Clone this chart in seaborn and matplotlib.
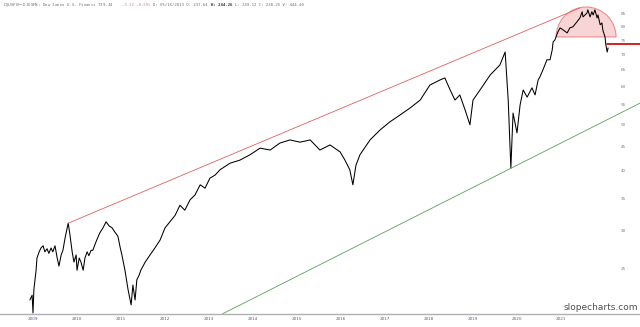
import numpy as np
import pandas as pd
import matplotlib
matplotlib.use("Agg")
import matplotlib.pyplot as plt
import seaborn as sns
from matplotlib.patches import Wedge
from matplotlib.transforms import ScaledTranslation
from matplotlib.ticker import FixedLocator, NullLocator, FixedFormatter

# ---- data (fractional year, price) ----
dates = [2008.93, 2008.98, 2009.00, 2009.02, 2009.07, 2009.09, 2009.14, 2009.18, 2009.23, 2009.27,
         2009.32, 2009.36, 2009.41, 2009.45, 2009.50, 2009.55, 2009.59, 2009.64, 2009.68, 2009.73,
         2009.80, 2009.84, 2009.89, 2009.93, 2009.98, 2010.00, 2010.05, 2010.09, 2010.14, 2010.18,
         2010.23, 2010.27, 2010.32, 2010.36, 2010.41, 2010.45, 2010.52, 2010.59, 2010.66, 2010.73,
         2010.80, 2010.86, 2010.93, 2010.98, 2011.02, 2011.09, 2011.16, 2011.23, 2011.27, 2011.32,
         2011.36, 2011.41, 2011.45, 2011.55, 2011.66, 2011.77, 2011.89, 2012.00, 2012.11, 2012.23,
         2012.34, 2012.45, 2012.57, 2012.68, 2012.80, 2012.91, 2013.02, 2013.14, 2013.25, 2013.48,
         2013.70, 2013.93, 2014.16, 2014.39, 2014.61, 2014.84, 2015.07, 2015.30, 2015.52, 2015.75,
         2015.98, 2016.09, 2016.20, 2016.27, 2016.34, 2016.43, 2016.66, 2016.89, 2017.11, 2017.34,
         2017.57, 2017.80, 2018.02, 2018.25, 2018.36, 2018.48, 2018.59, 2018.70, 2018.82, 2018.93,
         2019.00, 2019.16, 2019.39, 2019.61, 2019.73, 2019.80, 2019.86, 2019.91, 2020.00, 2020.07,
         2020.14, 2020.23, 2020.34, 2020.41, 2020.48, 2020.52, 2020.59, 2020.68, 2020.75, 2020.80,
         2020.82, 2020.86, 2020.93, 2020.98, 2021.05, 2021.14, 2021.20, 2021.27, 2021.36, 2021.43,
         2021.48, 2021.50, 2021.59, 2021.61, 2021.66, 2021.70, 2021.73, 2021.77, 2021.82, 2021.84,
         2021.89, 2021.93, 2021.95, 2022.00, 2022.02, 2022.05, 2022.07]
prices = [21.5, 22.0, 20.2, 22.6, 24.8, 26.3, 27.1, 27.6, 27.9, 27.1,
          27.5, 26.9, 27.6, 27.1, 27.9, 26.3, 25.3, 26.7, 27.3, 29.0,
          31.1, 29.4, 27.1, 25.8, 26.7, 24.8, 26.3, 25.8, 24.8, 26.3,
          27.1, 26.6, 27.3, 27.3, 28.1, 28.7, 29.7, 30.4, 31.3, 30.7,
          30.4, 29.8, 29.2, 27.7, 26.7, 24.8, 22.6, 21.0, 23.1, 21.5,
          23.7, 24.2, 24.8, 25.8, 26.7, 27.6, 28.7, 30.4, 31.3, 32.3,
          33.9, 33.1, 34.8, 35.6, 37.4, 36.8, 38.6, 39.2, 40.2, 41.5,
          42.1, 43.2, 44.6, 44.2, 45.7, 46.4, 45.9, 46.4, 44.2, 45.3,
          43.8, 42.1, 40.2, 37.4, 41.1, 43.2, 46.4, 48.7, 50.6, 52.3,
          54.1, 56.2, 60.4, 61.9, 62.5, 59.0, 56.2, 57.6, 53.6, 49.9,
          56.2, 59.0, 63.4, 66.5, 70.8, 56.2, 40.5, 52.8, 48.0, 54.9,
          59.0, 57.0, 59.6, 57.6, 61.9, 62.8, 65.0, 68.2, 68.2, 71.5,
          74.3, 75.0, 78.0, 79.5, 78.7, 77.6, 79.5, 79.9, 81.8, 83.4,
          85.9, 83.8, 85.4, 86.7, 83.8, 85.9, 84.6, 86.7, 83.4, 84.6,
          80.7, 81.4, 78.7, 76.1, 73.2, 70.8, 72.2]

year_labels = ["2009", "2010", "2011", "2012", "2013", "2014", "2015",
               "2016", "2017", "2018", "2019", "2020", "2021"]
year_ticks = [2009, 2010, 2011, 2012, 2013, 2014, 2015, 2016, 2017, 2018, 2019, 2020, 2021]
price_ticks = [20, 25, 30, 35, 40, 45, 50, 55, 60, 65, 70, 75, 80, 85]

# trendlines (date, price)
upper_trend_dates = [2009.80, 2021.43]
upper_trend_prices = [31.1, 87.5]
lower_trend_dates = [2013.30, 2022.80]
lower_trend_prices = [20.1, 55.4]
support_dates = [2022.05, 2022.80]
support_prices = [73.6, 73.6]
dome_center = (2021.57, 76.1)

header_parts = [
    ("$DJUSFN - $DJUSFN: Dow Jones U.S. Financi 739.34 ", "#707070", "normal"),
    ("-3.22 -0.59% ", "#e08070", "normal"),
    ("D: 05/16/2013 O: 237.64 ", "#707070", "normal"),
    ("H: 244.26 ", "#303030", "bold"),
    ("L: 249.12 C: 238.25 V: 444.40", "#707070", "normal"),
]

df = pd.DataFrame({"date": dates, "price": prices})

sns.set_style("white")
fig = plt.figure(figsize=(6.4, 3.27), dpi=100)
ax = fig.add_axes([0, 13 / 327, 1, 1 - 13 / 327])

sns.lineplot(data=df, x="date", y="price", ax=ax, color="black", linewidth=0.75)

ax.plot(upper_trend_dates, upper_trend_prices, color="#e06060", linewidth=0.6)
ax.plot(lower_trend_dates, lower_trend_prices, color="#5aa05a", linewidth=0.6)
ax.plot(support_dates, support_prices, color="#d22020", linewidth=1.4)

dome = Wedge((0, 0), 0.30, 0, 180, facecolor="#f5b8b8", alpha=0.6,
             edgecolor="#e04040", linewidth=0.7,
             transform=fig.dpi_scale_trans + ScaledTranslation(dome_center[0], dome_center[1], ax.transData))
ax.add_patch(dome)

ax.set_yscale("log")
ax.set_xlim(2008.25, 2022.795)
ax.set_ylim(20.1, 90.9)

ax.xaxis.set_major_locator(FixedLocator(year_ticks))
ax.xaxis.set_major_formatter(FixedFormatter(year_labels))
ax.yaxis.tick_right()
ax.yaxis.set_major_locator(FixedLocator(price_ticks))
ax.yaxis.set_major_formatter(FixedFormatter([str(p) for p in price_ticks]))
ax.yaxis.set_minor_locator(NullLocator())
ax.tick_params(axis="x", length=0, pad=2.5, labelsize=3, labelcolor="#5a5a8c")
ax.tick_params(axis="y", length=0, pad=-14, labelsize=3, labelcolor="#808080")
ax.set_xlabel("")
ax.set_ylabel("")

for s in ["top", "left", "right"]:
    ax.spines[s].set_visible(False)
ax.spines["bottom"].set_color("#b0b0b0")
ax.spines["bottom"].set_linewidth(1.0)

# header drawn piece by piece (monospace, ~2.42 px per character)
char_px = 2.42
xpos = 3.0
for txt, col, wt in header_parts:
    fig.text(xpos / 640, 1 - 5 / 327, txt, fontsize=2.9, family="DejaVu Sans Mono",
             color=col, weight=wt, va="center", ha="left")
    xpos += len(txt) * char_px

fig.text(601 / 640, 1 - 308 / 327, "slopecharts.com", fontsize=6.5, color="#505050",
         ha="center", va="center")

fig.savefig("out.png", dpi=100)
